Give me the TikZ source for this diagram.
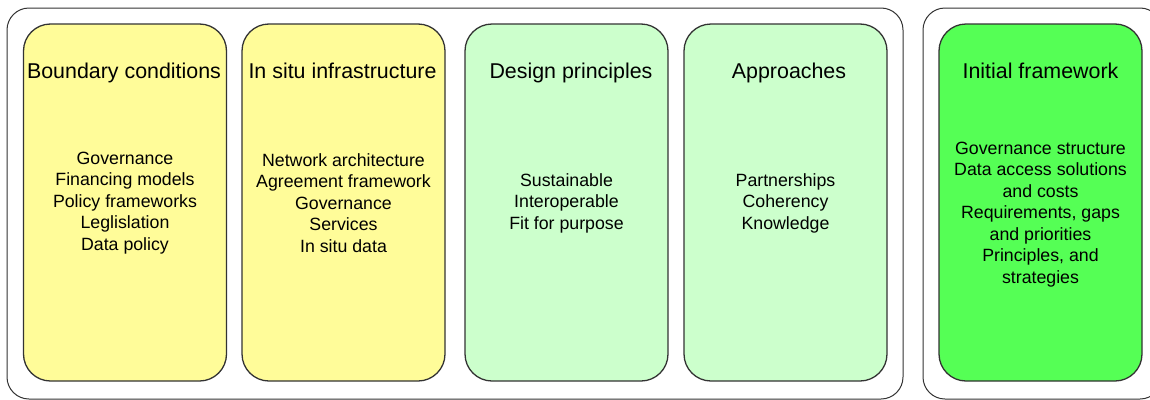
\documentclass[tikz,border=0pt]{standalone}
\usepackage{fontspec}
\setmainfont{Liberation Sans}
\definecolor{paleyellow}{HTML}{FFFC99}
\definecolor{palegreen}{HTML}{CCFFCC}
\definecolor{brightgreen}{HTML}{55FF55}
\definecolor{edge}{HTML}{333333}
\tikzset{
  group/.style={draw=edge, line width=1pt, rounded corners=22pt},
  card/.style={draw=edge, line width=1.3pt, rounded corners=27pt,
    minimum width=203pt, minimum height=357pt, inner sep=0pt},
  heading/.style={anchor=base, inner sep=0pt, font=\fontsize{21.4}{25}\selectfont},
  items/.style={align=center, inner sep=0pt, font=\fontsize{17.75}{21.5}\selectfont},
}
\begin{document}
\begin{tikzpicture}[x=1pt, y=-1pt]
  \useasboundingbox (0,0) rectangle (1150,399);
  \clip (0,0) rectangle (1150,399);

  % grouping frames
  \draw[group] (7,8) rectangle (903,399);
  \draw[group] (923,8) rectangle (1162,399);

  % cards
  \node[card, fill=paleyellow]  (bc) at (125,202.5)   {};
  \node[card, fill=paleyellow]  (is) at (343.5,202.5) {};
  \node[card, fill=palegreen]   (dp) at (566.5,202.5) {};
  \node[card, fill=palegreen]   (ap) at (785.5,202.5) {};
  \node[card, fill=brightgreen] (fw) at (1040.5,202.5) {};

  % headings
  \node[heading] (bct) at (124,78)    {Boundary conditions};
  \node[heading] (ist) at (342.5,78)  {In situ infrastructure};
  \node[heading] (dpt) at (571,78)    {Design principles};
  \node[heading] (apt) at (789,78)    {Approaches};
  \node[heading] (fwt) at (1040.5,78) {Initial framework};

  % item lists
  \node[items] (bci) at (125,203) {Governance\\Financing models\\Policy frameworks\\Leglislation\\Data policy};
  \node[items] (isi) at (343.5,203) {Network architecture\\Agreement framework\\Governance\\Services\\In situ data};
  \node[items] (dpi) at (566.5,203.3) {Sustainable\\Interoperable\\Fit for purpose};
  \node[items] (api) at (785.5,203.3) {Partnerships\\Coherency\\Knowledge};
  \node[items] (fwi) at (1040.5,214.3) {Governance structure\\Data access solutions\\and costs\\Requirements, gaps\\and priorities\\Principles, and\\strategies};
\end{tikzpicture}
\end{document}
